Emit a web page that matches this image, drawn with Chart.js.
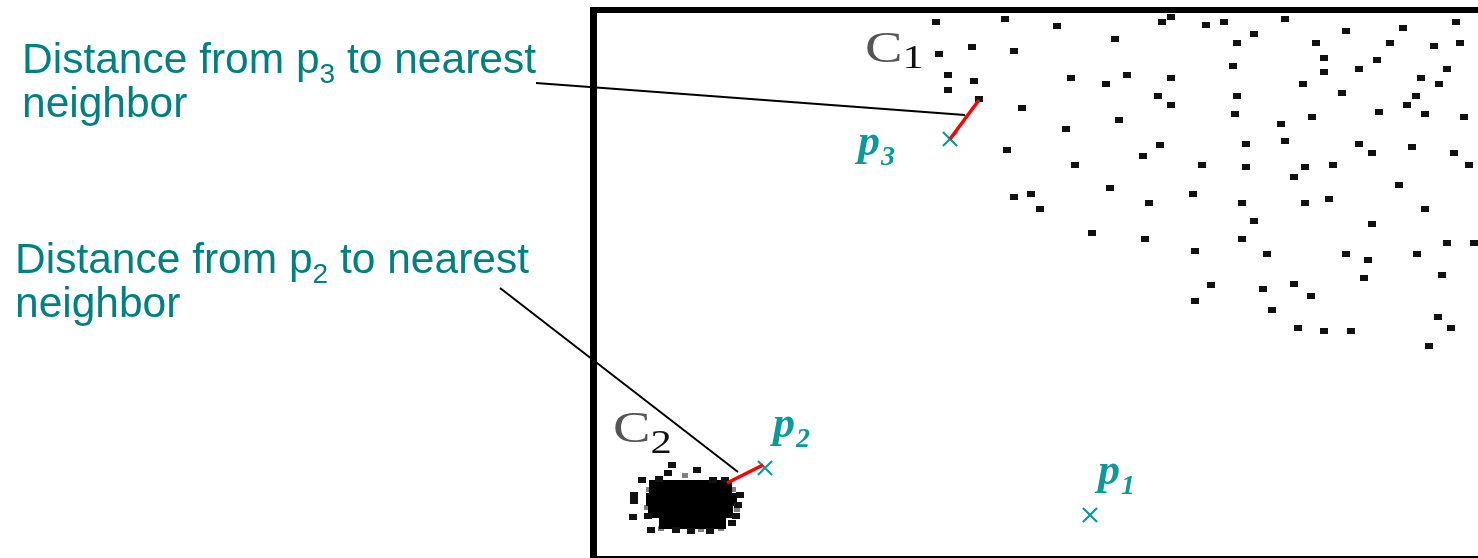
<!DOCTYPE html>
<html>
<head>
<meta charset="utf-8">
<title>Nearest neighbor distances</title>
<script src="https://cdn.jsdelivr.net/npm/chart.js@4/dist/chart.umd.min.js"></script>
<style>
  html, body { margin: 0; padding: 0; background: #fff; overflow: hidden; }
  #nnChart { display: block; }
</style>
</head>
<body>
<canvas id="nnChart" width="1478" height="558"></canvas>
<script>
/* Data: pixels inside the plot box, x from its left edge, y up from its bottom edge */

// sparse cluster C1
const sparseCluster = [
  [339, 533], [408, 536], [342, 501], [375, 508], [417, 504], [351, 480], [377, 474],
  [351, 465], [382, 456], [425, 447], [410, 405], [417, 358], [434, 361], [443, 346],
  [460, 529], [518, 516], [565, 533], [574, 538], [609, 530], [627, 533], [688, 536],
  [657, 521], [640, 512], [749, 524], [806, 527], [859, 533], [719, 512], [793, 512],
  [837, 509], [863, 512], [727, 497], [780, 495], [636, 489], [727, 483], [762, 486],
  [850, 486], [474, 477], [530, 480], [574, 477], [509, 471], [706, 471], [824, 477],
  [842, 471], [745, 462], [561, 459], [640, 459], [819, 459], [574, 450], [810, 450],
  [522, 435], [638, 441], [715, 438], [782, 443], [828, 441], [867, 438], [684, 431],
  [469, 426], [563, 410], [649, 411], [688, 414], [762, 411], [815, 408], [546, 399],
  [775, 402], [857, 402], [478, 390], [605, 390], [649, 388], [708, 388], [736, 390],
  [872, 390], [697, 378], [513, 367], [802, 370], [596, 361], [732, 356], [552, 352],
  [645, 352], [708, 352], [828, 346], [657, 334], [775, 331], [495, 322], [548, 316],
  [645, 316], [850, 312], [877, 312], [598, 304], [670, 301], [749, 301], [771, 295],
  [820, 301], [767, 277], [845, 280], [614, 270], [697, 271], [666, 266], [714, 259],
  [598, 254], [675, 245], [841, 238], [701, 227], [727, 224], [754, 224], [854, 227],
  [832, 209]
];

// dense cluster C2: solid middle and loose fringe
const denseCore = [
  [59, 69], [73, 69], [87, 69], [101, 69], [115, 69], [127, 69],
  [56, 56], [70, 56], [84, 56], [98, 56], [112, 56], [126, 56], [132, 56],
  [58, 44], [72, 44], [86, 44], [100, 44], [114, 44], [128, 44],
  [69, 33], [83, 33], [97, 33], [111, 33], [121, 33]
];
const denseFringe = [
  [75, 90], [71, 82], [100, 85], [45, 75], [62, 76], [116, 75], [128, 75],
  [37, 60], [37, 54], [36, 38], [51, 39], [54, 25], [79, 25], [94, 24],
  [113, 24], [141, 50], [139, 39], [135, 32], [143, 60]
];
const denseGrey = [
  [52, 66], [136, 66], [50, 48], [140, 46], [64, 27], [104, 26], [124, 27], [88, 80]
];

// the three test points
const testNames = ['1', '2', '3'];
const testPoints = [[493, 40], [168, 87], [353, 416]];

// nearest neighbor segments (red) and pointer lines (black)
const p3Segment = [[353, 416], [382, 455]];
const p2Segment = [[166, 90], [130, 72]];
const p3Pointer = [[-61, 472], [368, 440]];
const p2Pointer = [[-97, 267], [141, 83]];

const clusterNames = ['1', '2'];
const clusterLabelAt = [[268, 493], [16, 113]];

const noteText = ['Distance from p', ' to nearest', 'neighbor'];

const TEAL = '#008080';
const MARK = '#0a9a9a';

function block(w, h, color) {
  const c = document.createElement('canvas');
  c.width = w;
  c.height = h;
  const g = c.getContext('2d');
  g.fillStyle = color;
  g.fillRect(0, 0, w, h);
  return c;
}

const toXY = (arr) => arr.map(([x, y]) => ({ x: x, y: y }));

// frame, cluster names, point names and the notes on the left
const decorations = {
  id: 'decorations',
  beforeDatasetsDraw(chart) {
    const { ctx, chartArea: a } = chart;
    ctx.save();
    ctx.fillStyle = '#000';
    ctx.fillRect(a.left - 7, a.top - 6, 7, chart.height - a.top + 6);
    ctx.fillRect(a.left - 7, a.top - 6, a.right - a.left + 7, 6);
    ctx.fillRect(a.left - 7, a.bottom + 1, a.right - a.left + 7, 2);
    ctx.restore();
  },
  afterDatasetsDraw(chart) {
    const ctx = chart.ctx;
    const xs = chart.scales.x;
    const ys = chart.scales.y;
    ctx.save();
    ctx.textBaseline = 'alphabetic';

    // C1, C2
    clusterLabelAt.forEach(([x, y], i) => {
      ctx.save();
      ctx.translate(xs.getPixelForValue(x), ys.getPixelForValue(y));
      ctx.scale(1.25, 1);
      ctx.font = '45px "Liberation Serif", serif';
      ctx.fillStyle = '#555';
      ctx.fillText('C', 0, 0);
      const w = ctx.measureText('C').width;
      ctx.font = '34px "Liberation Serif", serif';
      ctx.fillStyle = '#111';
      ctx.fillText(clusterNames[i], w, i === 0 ? 6 : 11);
      ctx.restore();
    });

    // p1, p2, p3
    const nameOffset = [[8, -31], [8, -31], [-92, 16]];
    testPoints.forEach(([x, y], i) => {
      const px = xs.getPixelForValue(x) + nameOffset[i][0];
      const py = ys.getPixelForValue(y) + nameOffset[i][1];
      ctx.fillStyle = MARK;
      ctx.font = 'bold italic 44px "Liberation Serif", serif';
      ctx.fillText('p', px, py);
      const w = ctx.measureText('p').width;
      ctx.font = 'bold italic 28px "Liberation Serif", serif';
      ctx.fillText(testNames[i], px + w + 1, py + 10);
    });

    // the two notes
    const notes = [[22, 73, '3'], [15, 273, '2']];
    notes.forEach(([x, y, sub]) => {
      ctx.fillStyle = TEAL;
      ctx.font = '42.5px "Liberation Sans", Arial, sans-serif';
      ctx.fillText(noteText[0], x, y);
      let cx = x + ctx.measureText(noteText[0]).width;
      ctx.font = '28px "Liberation Sans", Arial, sans-serif';
      ctx.fillText(sub, cx, y + 10);
      cx += ctx.measureText(sub).width;
      ctx.font = '42.5px "Liberation Sans", Arial, sans-serif';
      ctx.fillText(noteText[1], cx, y);
      ctx.fillText(noteText[2], x, y + 44);
    });
    ctx.restore();
  }
};

const lineSet = (pts, color, width) => ({
  type: 'line',
  data: toXY(pts),
  borderColor: color,
  borderWidth: width,
  pointRadius: 0,
  fill: false,
  clip: false
});

new Chart(document.getElementById('nnChart'), {
  type: 'scatter',
  data: {
    datasets: [
      lineSet(p3Segment, '#ff0000', 3.5),
      lineSet(p2Segment, '#ff0000', 3.5),
      {
        data: toXY(testPoints),
        pointStyle: 'crossRot',
        pointRadius: 10,
        borderColor: MARK,
        borderWidth: 2.2,
        backgroundColor: MARK
      },
      lineSet(p3Pointer, '#000', 2),
      lineSet(p2Pointer, '#000', 2),
      {
        data: toXY(sparseCluster),
        pointStyle: block(8, 6, '#111'),
        pointRadius: 4
      },
      {
        data: toXY(denseFringe),
        pointStyle: block(8, 6, '#111'),
        pointRadius: 4
      },
      {
        data: toXY(denseCore),
        pointStyle: block(15, 13, '#000'),
        pointRadius: 7
      },
      {
        data: toXY(denseGrey),
        pointStyle: block(6, 5, '#808080'),
        pointRadius: 3
      }
    ]
  },
  options: {
    responsive: false,
    devicePixelRatio: 1,
    animation: false,
    events: [],
    layout: { autoPadding: false, padding: { left: 597, top: 13, right: 0, bottom: 3 } },
    plugins: {
      legend: { display: false },
      tooltip: { enabled: false }
    },
    scales: {
      x: { type: 'linear', min: 0, max: 881, display: false },
      y: { type: 'linear', min: 0, max: 542, display: false }
    }
  },
  plugins: [decorations]
});
</script>
</body>
</html>
